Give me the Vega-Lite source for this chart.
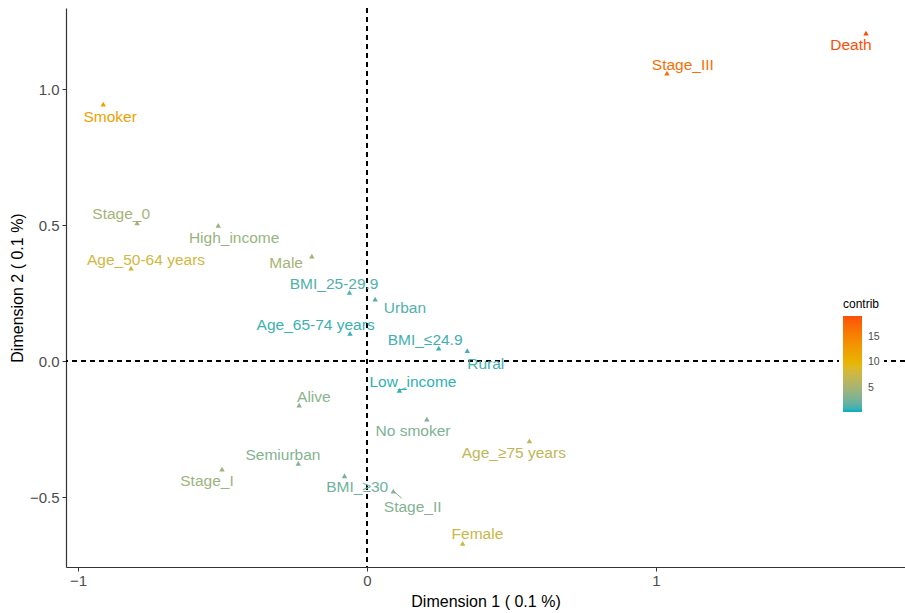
{
  "$schema": "https://vega.github.io/schema/vega-lite/v6.json",
  "width": 839,
  "height": 559,
  "autosize": {"type": "none"},
  "padding": {"left": 66, "top": 8, "right": 0, "bottom": 46},
  "config": {
    "view": {"stroke": null},
    "font": "Liberation Sans",
    "axis": {
      "grid": false,
      "domainColor": "#333333",
      "domainWidth": 1.2,
      "tickColor": "#333333",
      "tickSize": 4,
      "tickWidth": 1,
      "labelFontSize": 15,
      "labelColor": "#4D4D4D",
      "labelFont": "Liberation Sans",
      "titleFont": "Liberation Sans",
      "titleFontSize": 16,
      "titleFontWeight": "normal",
      "titleColor": "#000000"
    }
  },
  "data": {
    "values": [
      {"name": "Death", "x": 1.727, "y": 1.206, "lx": 1.675, "ly": 1.162, "contrib": 19.1},
      {"name": "Stage_III", "x": 1.038, "y": 1.059, "lx": 1.093, "ly": 1.088, "contrib": 16.7},
      {"name": "Smoker", "x": -0.913, "y": 0.945, "lx": -0.889, "ly": 0.897, "contrib": 12.3},
      {"name": "Stage_0", "x": -0.796, "y": 0.508, "lx": -0.851, "ly": 0.541, "contrib": 5.0},
      {"name": "High_income", "x": -0.515, "y": 0.499, "lx": -0.460, "ly": 0.452, "contrib": 4.3},
      {"name": "Age_50-64 years", "x": -0.817, "y": 0.342, "lx": -0.765, "ly": 0.371, "contrib": 8.0},
      {"name": "Male", "x": -0.191, "y": 0.386, "lx": -0.280, "ly": 0.362, "contrib": 5.0},
      {"name": "BMI_25-29.9", "x": -0.061, "y": 0.253, "lx": -0.114, "ly": 0.283, "contrib": 1.4},
      {"name": "Urban", "x": 0.028, "y": 0.228, "lx": 0.131, "ly": 0.196, "contrib": 1.4},
      {"name": "Age_65-74 years", "x": -0.059, "y": 0.102, "lx": -0.178, "ly": 0.132, "contrib": 0.9},
      {"name": "BMI_≤24.9", "x": 0.248, "y": 0.048, "lx": 0.201, "ly": 0.077, "contrib": 1.0},
      {"name": "Rural", "x": 0.347, "y": 0.038, "lx": 0.411, "ly": -0.009, "contrib": 1.1},
      {"name": "Low_income", "x": 0.112, "y": -0.108, "lx": 0.159, "ly": -0.076, "contrib": 0.7, "sx": 0.135, "sy": -0.098},
      {"name": "Alive", "x": -0.235, "y": -0.162, "lx": -0.184, "ly": -0.131, "contrib": 3.6},
      {"name": "No smoker", "x": 0.207, "y": -0.213, "lx": 0.159, "ly": -0.257, "contrib": 3.0},
      {"name": "Age_≥75 years", "x": 0.562, "y": -0.293, "lx": 0.508, "ly": -0.337, "contrib": 6.8},
      {"name": "Semiurban", "x": -0.238, "y": -0.376, "lx": -0.291, "ly": -0.346, "contrib": 3.2},
      {"name": "Stage_I", "x": -0.502, "y": -0.397, "lx": -0.554, "ly": -0.441, "contrib": 4.5},
      {"name": "BMI_≥30", "x": -0.078, "y": -0.422, "lx": -0.034, "ly": -0.464, "contrib": 2.4},
      {"name": "Stage_II", "x": 0.091, "y": -0.478, "lx": 0.158, "ly": -0.535, "contrib": 3.2, "sx": 0.120, "sy": -0.504},
      {"name": "Female", "x": 0.331, "y": -0.670, "lx": 0.382, "ly": -0.637, "contrib": 7.5}
    ]
  },
  "layer": [
    {
      "mark": {"type": "rule", "color": "#000000", "strokeDash": [5, 4], "strokeWidth": 1},
      "encoding": {
        "x": {"datum": 0, "type": "quantitative", "scale": {"domain": [-1.042, 1.862], "nice": false, "zero": false}}
      }
    },
    {
      "mark": {"type": "rule", "color": "#000000", "strokeDash": [5, 4], "strokeWidth": 1},
      "encoding": {
        "y": {"datum": 0, "type": "quantitative", "scale": {"domain": [-0.757, 1.298], "nice": false, "zero": false}}
      }
    },
    {
      "transform": [{"filter": "isValid(datum.sx)"}],
      "mark": {"type": "rule", "strokeWidth": 1},
      "encoding": {
        "x": {"field": "x", "type": "quantitative"},
        "y": {"field": "y", "type": "quantitative"},
        "x2": {"field": "sx"},
        "y2": {"field": "sy"},
        "stroke": {
          "field": "contrib", "type": "quantitative",
          "scale": {"domain": [0.29, 19.1], "range": ["#00AFBB", "#E7B800", "#FC4E07"], "interpolate": "lab", "zero": false, "nice": false},
          "legend": null
        }
      }
    },
    {
      "mark": {"type": "point", "shape": "triangle-up", "filled": true, "size": 30, "opacity": 1},
      "encoding": {
        "x": {
          "field": "x", "type": "quantitative",
          "scale": {"domain": [-1.042, 1.862], "nice": false, "zero": false},
          "axis": {"values": [-1, 0, 1], "format": "d", "title": "Dimension 1 ( 0.1 %)", "labelPadding": 2, "titlePadding": 5}
        },
        "y": {
          "field": "y", "type": "quantitative",
          "scale": {"domain": [-0.757, 1.298], "nice": false, "zero": false},
          "axis": {"values": [-0.5, 0, 0.5, 1], "format": ".1f", "title": "Dimension 2 ( 0.1 %)", "labelPadding": 3, "titlePadding": 4}
        },
        "color": {
          "field": "contrib", "type": "quantitative",
          "scale": {"domain": [0.3, 19.1], "range": ["#00AFBB", "#E7B800", "#FC4E07"], "interpolate": "lab", "zero": false, "nice": false},
          "legend": {
            "type": "gradient",
            "title": "contrib",
            "orient": "none",
            "legendX": 773,
            "legendY": 287,
            "padding": 4,
            "fillColor": "#FFFFFF",
            "direction": "vertical",
            "values": [5, 10, 15],
            "gradientLength": 96,
            "gradientThickness": 19,
            "gradientStrokeWidth": 0,
            "titleFontSize": 12,
            "titleFontWeight": "normal",
            "titleColor": "#000000",
            "titlePadding": 5,
            "labelFontSize": 10.5,
            "labelColor": "#4D4D4D",
            "labelOffset": 6,
            "labelFont": "Liberation Sans",
            "titleFont": "Liberation Sans"
          }
        }
      }
    },
    {
      "mark": {"type": "text", "fontSize": 15.5, "align": "center", "baseline": "middle", "font": "Liberation Sans"},
      "encoding": {
        "x": {"field": "lx", "type": "quantitative"},
        "y": {"field": "ly", "type": "quantitative"},
        "text": {"field": "name"},
        "color": {"field": "contrib", "type": "quantitative"}
      }
    }
  ]
}
